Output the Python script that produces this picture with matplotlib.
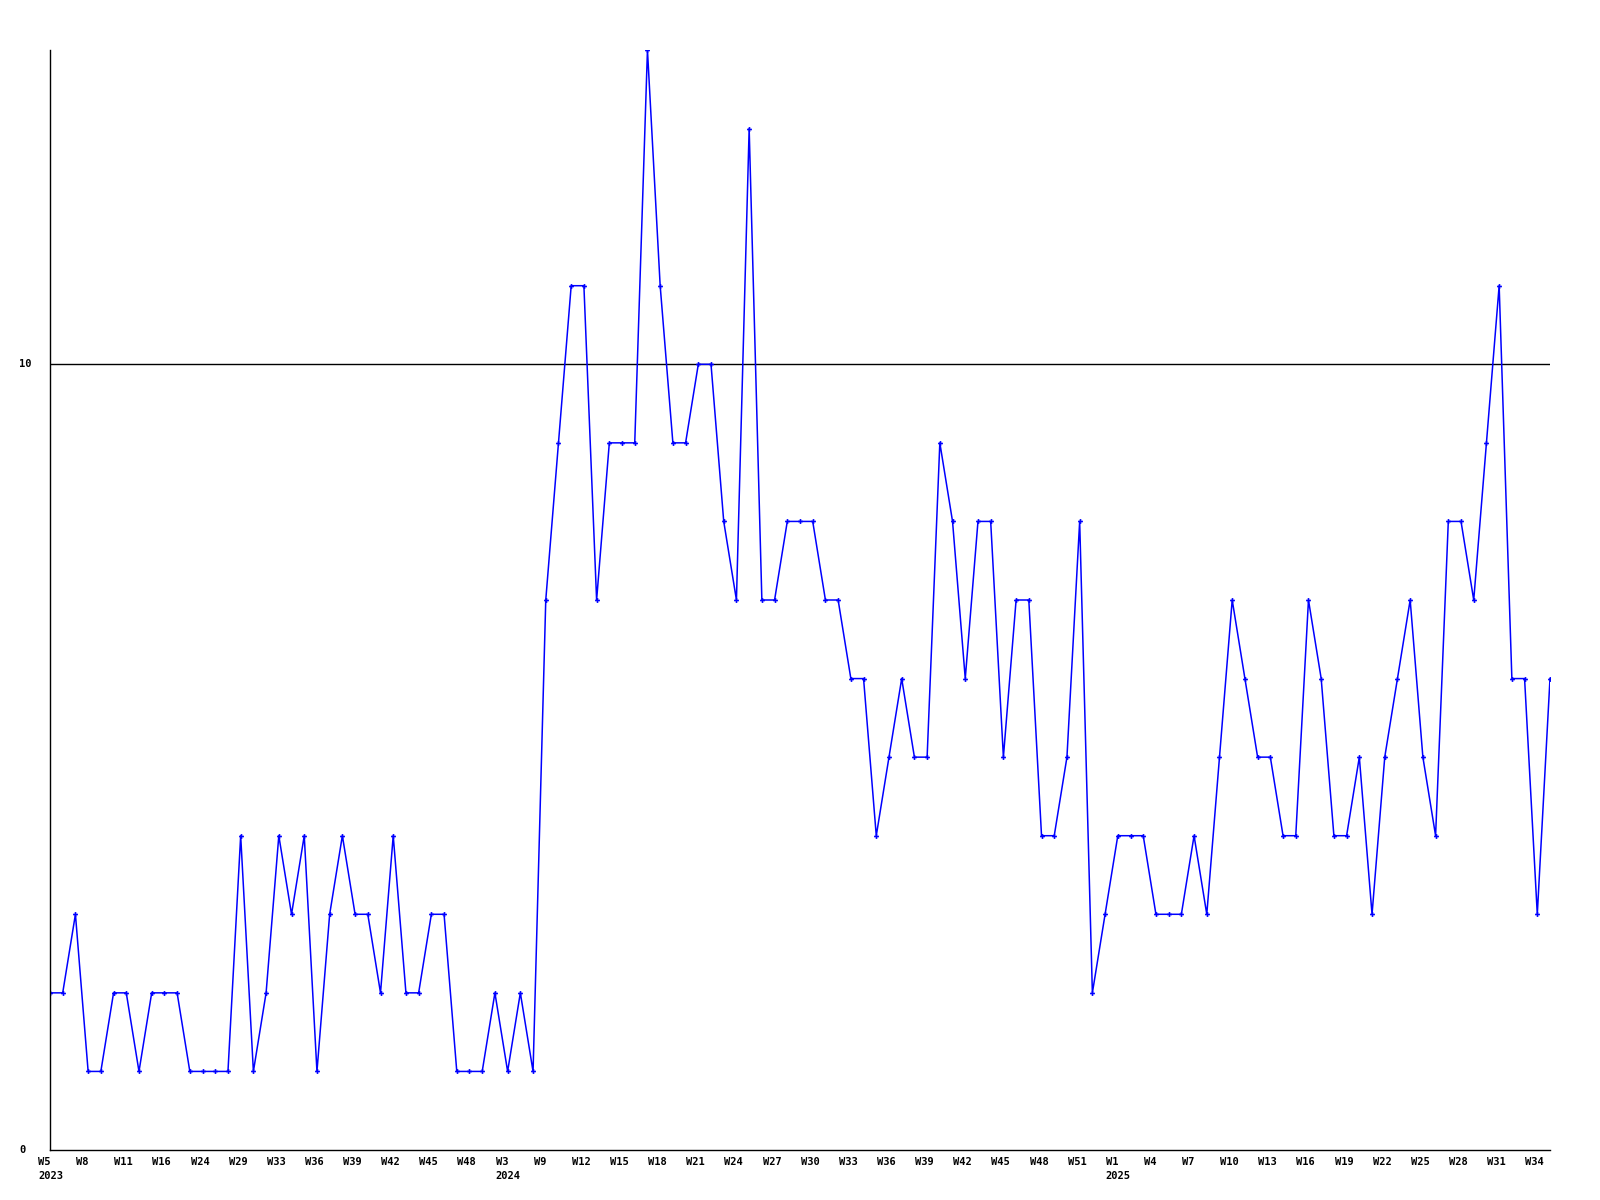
import matplotlib
matplotlib.use('Agg')
import matplotlib.pyplot as plt
import matplotlib.transforms as mtransforms

# weekly values, one per point
values = [2, 2, 3, 1, 1, 2, 2, 1, 2, 2, 2, 1, 1, 1, 1, 4, 1, 2, 4, 3,
          4, 1, 3, 4, 3, 3, 2, 4, 2, 2, 3, 3, 1, 1, 1, 2, 1, 2, 1, 7,
          9, 11, 11, 7, 9, 9, 9, 14, 11, 9, 9, 10, 10, 8, 7, 13, 7, 7, 8, 8,
          8, 7, 7, 6, 6, 4, 5, 6, 5, 5, 9, 8, 6, 8, 8, 5, 7, 7, 4, 4,
          5, 8, 2, 3, 4, 4, 4, 3, 3, 3, 4, 3, 5, 7, 6, 5, 5, 4, 4, 7,
          6, 4, 4, 5, 3, 5, 6, 7, 5, 4, 8, 8, 7, 9, 11, 6, 6, 3, 6]

# labels shown on every third point
week_labels = ['W5', 'W8', 'W11', 'W16', 'W24', 'W29', 'W33', 'W36', 'W39', 'W42',
               'W45', 'W48', 'W3', 'W9', 'W12', 'W15', 'W18', 'W21', 'W24', 'W27',
               'W30', 'W33', 'W36', 'W39', 'W42', 'W45', 'W48', 'W51', 'W1', 'W4',
               'W7', 'W10', 'W13', 'W16', 'W19', 'W22', 'W25', 'W28', 'W31', 'W34']
year_labels = {0: '2023', 12: '2024', 28: '2025'}

x = list(range(len(values)))

fig = plt.figure(figsize=(16, 12), dpi=100)
ax = fig.add_axes([50/1600, 50/1200, 1500/1600, 1100/1200])

ax.axhline(10, color='black', lw=1)
ax.plot(x, values, color='#0000ff', lw=1.1, marker='P', markersize=3.5,
        markeredgewidth=0)

ax.set_xlim(0, len(values) - 1)
ax.set_ylim(0, 14)

for s in ['top', 'right']:
    ax.spines[s].set_visible(False)
for s in ['left', 'bottom']:
    ax.spines[s].set_linewidth(1)

font = dict(family='DejaVu Sans Mono', weight='bold', size=7.5)

ticks = x[::3][:len(week_labels)]
labels = []
for i, w in enumerate(week_labels):
    labels.append(w + '\n' + year_labels[i] if i in year_labels else w)
ax.set_xticks(ticks)
ax.set_xticklabels(labels, ha='left', va='top', linespacing=1.45, **font)
ax.tick_params(axis='x', length=0, pad=5)
shift = mtransforms.ScaledTranslation(-12/100, 0, fig.dpi_scale_trans)
for lab in ax.get_xticklabels():
    lab.set_transform(lab.get_transform() + shift)

ax.set_yticks([])
for v in [0, 10]:
    ax.text(-31/1500, v, str(v), transform=ax.get_yaxis_transform(),
            ha='left', va='center', **font)

fig.savefig('out.png', dpi=100)
